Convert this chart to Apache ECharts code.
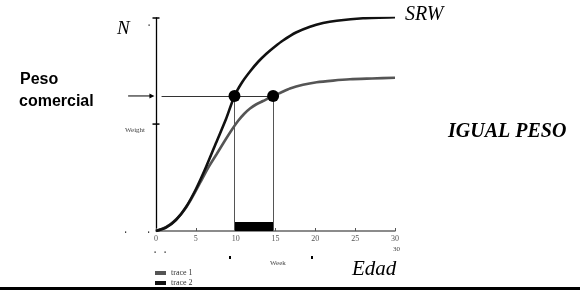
<!DOCTYPE html>
<html><head><meta charset="utf-8">
<script src="https://cdn.jsdelivr.net/npm/echarts@6/dist/echarts.min.js"></script>
<style>html,body{margin:0;padding:0;background:#fff}#c{width:580px;height:293px}</style>
</head><body><div id="c"></div>
<script>
// x tick labels (Week)
const xTicks = [0, 5, 10, 15, 20, 25, 30];
// trace 2 : SRW curve (black)
const srwX = [0, 1.26, 2.51, 3.77, 5.02, 6.28, 7.53, 8.79, 9.85, 10.79, 11.80, 12.80, 13.89, 14.94, 15.94, 17.57, 19.33, 20.96, 22.68, 25.98, 30];
const srwY = [0, 1.64, 5.16, 11.27, 19.72, 30.05, 41.31, 52.58, 63.4, 69.72, 74.88, 79.34, 83.33, 86.62, 89.44, 93.19, 95.92, 97.65, 98.73, 99.86, 100.33];
// trace 1 : slower curve (gray)
const lateX = [0, 0.88, 1.76, 2.64, 3.51, 4.39, 5.52, 6.53, 7.62, 8.54, 9.50, 10.29, 11.05, 11.80, 12.55, 13.43, 14.7, 15.69, 16.82, 18.45, 20.17, 22.22, 24.35, 27.11, 30];
const lateY = [0, 1.17, 3.05, 5.87, 9.62, 14.79, 22.54, 29.58, 36.15, 41.78, 47.42, 51.64, 54.93, 57.51, 59.39, 61.03, 63.4, 65.02, 66.9, 68.64, 69.81, 70.61, 71.22, 71.6, 71.97];
// commercial weight and ages at which it is reached
const commercialWeight = 63.4;
const ageSRW = 9.85;
const ageLate = 14.7;
const barHeight = 4.2;
// y axis tick marks
const yTickValues = [100, 50.2];

const zip = (xs, ys) => xs.map((x, i) => [x, ys[i]]);
const SERIF = '"Liberation Serif", "DejaVu Serif", serif';
const SANS = '"Liberation Sans", Arial, sans-serif';

const chart = echarts.init(document.getElementById('c'), null, {renderer: 'canvas'});
chart.setOption({
  animation: false,
  backgroundColor: '#fff',
  grid: {left: 156, right: 185, top: 18, bottom: 62, containLabel: false},
  xAxis: {
    type: 'value', min: 0, max: 30, interval: 5,
    axisLine: {onZero: false, lineStyle: {color: '#666', width: 1.5}},
    axisTick: {show: true, inside: true, length: 3, lineStyle: {color: '#555', width: 1}},
    axisLabel: {
      color: '#555', fontSize: 8, fontFamily: SERIF, margin: 4,
      formatter: v => xTicks.includes(v) ? String(v) : ''
    },
    splitLine: {show: false}
  },
  yAxis: {
    type: 'value', min: 0, max: 100,
    axisLine: {show: true, lineStyle: {color: '#000', width: 1.3}},
    axisTick: {show: false},
    axisLabel: {show: false},
    splitLine: {show: false}
  },
  legend: {
    data: ['trace 1', 'trace 2'],
    orient: 'vertical', left: 155, top: 269,
    icon: 'rect', itemWidth: 11, itemHeight: 4, itemGap: 2,
    textStyle: {fontSize: 8, fontFamily: SERIF, color: '#333'},
    padding: 0
  },
  series: [
    {
      name: 'trace 1', type: 'line', data: zip(lateX, lateY),
      smooth: 0.25, showSymbol: false,
      lineStyle: {color: '#555', width: 2.6}, itemStyle: {color: '#555'}, z: 3
    },
    {
      name: 'trace 2', type: 'line', data: zip(srwX, srwY),
      smooth: 0.25, showSymbol: false,
      lineStyle: {color: '#111', width: 2.6}, itemStyle: {color: '#111'}, z: 4
    },
    {
      name: 'points', type: 'scatter', z: 6,
      data: [[ageSRW, commercialWeight], [ageLate, commercialWeight]],
      symbol: 'circle', symbolSize: 12, itemStyle: {color: '#000', opacity: 1},
      markLine: {
        silent: true, symbol: ['none', 'none'], label: {show: false},
        lineStyle: {type: 'solid', width: 1, color: '#555'},
        data: [
          [{coord: [ageSRW, 0]}, {coord: [ageSRW, commercialWeight]}],
          [{coord: [ageLate, 0]}, {coord: [ageLate, commercialWeight]}],
          [{coord: [0.7, commercialWeight], lineStyle: {color: '#333'}}, {coord: [ageLate, commercialWeight]}]
        ]
      },
      markArea: {
        silent: true, itemStyle: {color: '#000', opacity: 1},
        data: [[{coord: [ageSRW, 0]}, {coord: [ageLate, barHeight]}]]
      }
    },
    {
      name: 'yticks', type: 'scatter', clip: false, z: 5,
      data: yTickValues.map(v => [0, v]),
      symbol: 'rect', symbolSize: [7, 1.5], itemStyle: {color: '#000', opacity: 1}
    }
  ]
});

// annotation arrow pointing at commercial weight, positioned from data
const a0 = chart.convertToPixel({gridIndex: 0}, [-3.5, commercialWeight]);
const a1 = chart.convertToPixel({gridIndex: 0}, [-0.2, commercialWeight]);
const txt = (text, x, y, font, fill) => ({
  type: 'text', x: x, y: y, silent: true,
  style: {text: text, font: font, fill: fill || '#000', verticalAlign: 'middle', align: 'left'}
});
const dot = (x, y, w, h) => ({type: 'rect', silent: true, shape: {x: x, y: y, width: w, height: h}, style: {fill: '#000'}});
chart.setOption({
  graphic: [
    {type: 'line', silent: true, shape: {x1: a0[0], y1: a0[1], x2: a1[0] - 4, y2: a1[1]}, style: {stroke: '#000', lineWidth: 1}},
    {type: 'polygon', silent: true, shape: {points: [[a1[0], a1[1]], [a1[0] - 5, a1[1] - 2.5], [a1[0] - 5, a1[1] + 2.5]]}, style: {fill: '#000'}},
    txt('N', 117, 29, 'italic 19px ' + SERIF),
    txt('SRW', 405, 14.5, 'italic 20px ' + SERIF),
    txt('IGUAL PESO', 448, 131.5, 'italic bold 20px ' + SERIF),
    txt('Peso', 20, 79.5, 'bold 16px ' + SANS),
    txt('comercial', 19, 102, 'bold 16px ' + SANS),
    txt('Weight', 125, 130.5, '7px ' + SERIF, '#444'),
    txt('Week', 270, 263, '7px ' + SERIF, '#444'),
    txt('30', 393, 249.5, '7px ' + SERIF, '#444'),
    txt('Edad', 352, 269, 'italic 21px ' + SERIF),
    dot(148.5, 24.5, 1.2, 1.2),
    dot(125, 231.5, 1.2, 1.2),
    dot(148, 231.5, 1.2, 1.2),
    dot(154.5, 251.5, 1.2, 1.2),
    dot(164.5, 251.5, 1.2, 1.2),
    dot(229, 256, 2, 3),
    dot(311, 256, 2, 3),
    {type: 'rect', silent: true, shape: {x: 0, y: 287, width: 580, height: 3}, style: {fill: '#000'}}
  ]
});
</script></body></html>
